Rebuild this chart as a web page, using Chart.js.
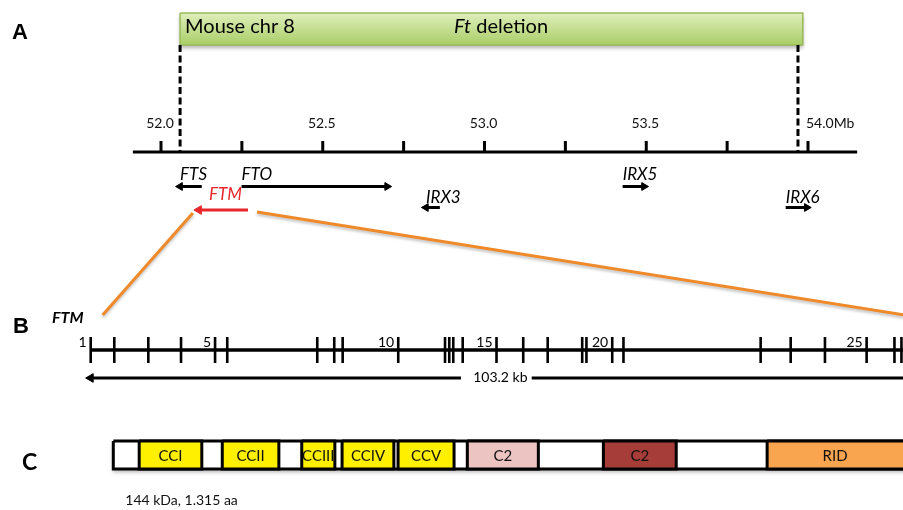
<!DOCTYPE html>
<html>
<head>
<meta charset="utf-8">
<title>Ft deletion / FTM</title>
<script src="https://cdn.jsdelivr.net/npm/chart.js@4.4.1/dist/chart.umd.min.js"></script>
<style>
  html, body { margin: 0; padding: 0; background: #fff; }
  #wrap { width: 903px; height: 510px; }
</style>
</head>
<body>
<div id="wrap"><canvas id="ftChart" width="903" height="510"></canvas></div>
<script>
// ---- Panel A: mouse chr 8 (Mb) ----
const axisRangeMb = [51.913, 54.152];
const axisTicksMb = [52.0, 52.25, 52.5, 52.75, 53.0, 53.25, 53.5, 53.75, 54.0];
const axisLabelsMb = ['52.0', '', '52.5', '', '53.0', '', '53.5', '', '54.0Mb'];
const deletionMb = [52.059, 53.969];
const geneNames = ['FTS', 'FTO', 'IRX3', 'IRX5', 'IRX6'];
const geneStartMb = [52.059, 52.249, 52.819, 53.427, 53.931];
const geneEndMb = [52.126, 52.699, 52.862, 53.493, 53.996];
const geneStrand = [-1, 1, -1, 1, 1];
const ftmMb = [52.117, 52.269]; // minus strand

// ---- Panel B: FTM exons (kb from exon 1) ----
const exonKb = [0, 3.0, 7.33, 11.49, 15.82, 17.37, 28.82, 30.98, 32.05, 39.12,
  45.07, 45.61, 46.12, 47.32, 51.62, 55.02, 58.13, 62.52, 63.06, 66.34,
  67.77, 85.22, 89.04, 93.40, 98.70, 102.24, 103.13];
const exonLabels = [1, 5, 10, 15, 20, 25];
const ftmLengthKb = 103.2;

// ---- Panel C: FTM protein domains (aa) ----
const proteinLengthAa = 1315;
const domainNames = ['CCI', 'CCII', 'CCIII', 'CCIV', 'CCV', 'C2', 'C2', 'RID'];
const domainStartAa = [43, 181, 313, 380, 473, 588, 814, 1086];
const domainEndAa = [147, 275, 368, 466, 566, 706, 935, 1315];

// styles
const domainColors = ['#fff000', '#fff000', '#fff000', '#fff000', '#fff000', '#ecc4c1', '#a63d38', '#f9a44e'];
const FONT = 'Lato, "Open Sans", sans-serif';
const ORANGE = '#ef8a2b';
const RED = '#e8262b';

// layout
const W = 903, H = 510;
const Y = {
  boxTop: 13, boxBottom: 45, boxText: 27,
  axisLabel: 123, tickTop: 141, axis: 152,
  row1: 186.5, row1Label: 175, row2: 207.5, row2Label: 197.5,
  ftm: 210, ftmLabel: 195,
  exonLabel: 342, exonTop: 337, exonLine: 350, exonBottom: 363, kbArrow: 378,
  protTop: 441, protBottom: 469, protLabel: 456, caption: 500
};
const geneRow = { FTS: 1, FTO: 1, IRX3: 2, IRX5: 1, IRX6: 2 };

// scale so that value v0 sits at pixel p0 and v1 at p1
function fitScale(v0, p0, v1, p1) {
  const k = (p1 - p0) / (v1 - v0);
  return { type: 'linear', axis: 'x', display: false, min: v0 - p0 / k, max: v0 + (W - p0) / k };
}

function line(xAxisID, data, opts) {
  return Object.assign({
    type: 'line', xAxisID: xAxisID, yAxisID: 'y', data: data,
    borderColor: '#000', borderWidth: 3, borderCapStyle: 'butt', borderJoinStyle: 'miter',
    pointRadius: 0, fill: false, tension: 0, clip: false, spanGaps: false
  }, opts || {});
}
function rect(x0, y0, x1, y1) {
  return [{ x: x0, y: y0 }, { x: x1, y: y0 }, { x: x1, y: y1 }, { x: x0, y: y1 }, { x: x0, y: y0 }];
}
function ticks(values, y0, y1) {
  const pts = [];
  values.forEach(v => { pts.push({ x: v, y: y0 }, { x: v, y: y1 }, { x: v, y: null }); });
  return pts;
}
function arrow(xAxisID, tail, head, y, color, r, width) {
  return line(xAxisID, [{ x: tail, y: y }, { x: head, y: y }], {
    borderColor: color, borderWidth: width || 3,
    backgroundColor: color, pointBackgroundColor: color, pointBorderColor: color, pointBorderWidth: 1,
    pointStyle: 'triangle', pointRadius: [0, r], pointRotation: head > tail ? 90 : -90
  });
}

function greenGradient(ctx) {
  const chart = ctx.chart;
  const y = chart.scales && chart.scales.y;
  const top = y ? y.getPixelForValue(Y.boxTop) : NaN;
  const bottom = y ? y.getPixelForValue(Y.boxBottom) : NaN;
  if (!isFinite(top) || !isFinite(bottom)) return '#bfdc8c';
  const g = chart.ctx.createLinearGradient(0, top, 0, bottom);
  g.addColorStop(0, '#dfeebb');
  g.addColorStop(1, '#a9ce67');
  return g;
}

// datasets, back to front
const layers = [];
layers.push(line('xMb', rect(deletionMb[0], Y.boxTop, deletionMb[1] + 0.015, Y.boxBottom),
  { fill: 'shape', backgroundColor: greenGradient, borderColor: '#9aba58', borderWidth: 1.5 }));
deletionMb.forEach(v => layers.push(line('xMb', [{ x: v, y: Y.boxBottom }, { x: v, y: Y.axis }],
  { borderDash: [7, 3.5] })));
layers.push(line('xMb', [{ x: axisRangeMb[0], y: Y.axis }, { x: axisRangeMb[1], y: Y.axis }]));
layers.push(line('xMb', ticks(axisTicksMb, Y.tickTop, Y.axis)));
geneNames.forEach((g, i) => {
  const tail = geneStrand[i] > 0 ? geneStartMb[i] : geneEndMb[i];
  const head = geneStrand[i] > 0 ? geneEndMb[i] : geneStartMb[i];
  layers.push(arrow('xMb', tail, head, geneRow[g] === 1 ? Y.row1 : Y.row2, '#000', 4.5));
});
layers.push(arrow('xMb', ftmMb[1], ftmMb[0], Y.ftm, RED, 5));

// panel B
layers.push(line('xKb', [{ x: 0, y: Y.exonLine }, { x: ftmLengthKb + 1, y: Y.exonLine }], { borderWidth: 3.5 }));
layers.push(line('xKb', ticks(exonKb, Y.exonTop, Y.exonBottom), { borderWidth: 2.6 }));
const kbMid = ftmLengthKb / 2, kbGap = 4.5;
layers.push(arrow('xKb', kbMid - kbGap, 0, Y.kbArrow, '#000', 5));
layers.push(line('xKb', [{ x: kbMid + kbGap, y: Y.kbArrow }, { x: ftmLengthKb + 1, y: Y.kbArrow }]));

// panel C
layers.push(line('xAa', rect(0, Y.protTop, proteinLengthAa, Y.protBottom),
  { fill: 'shape', backgroundColor: '#fff', borderWidth: 3 }));
domainNames.forEach((d, i) => {
  layers.push(line('xAa', rect(domainStartAa[i], Y.protTop, domainEndAa[i], Y.protBottom),
    { fill: 'shape', backgroundColor: domainColors[i], borderWidth: 3 }));
});
layers.forEach((ds, i) => { ds.order = layers.length - i; });

const scales = {
  xMb: fitScale(52.0, 161, 54.0, 808),
  xKb: fitScale(0, 90.7, ftmLengthKb, 902),
  xAa: fitScale(0, 113.3, proteinLengthAa, 905),
  y: { type: 'linear', display: false, min: 0, max: H, reverse: true }
};

// soft shadows + orange connectors (behind datasets)
const backdropPlugin = {
  id: 'backdrop',
  beforeDatasetsDraw(chart) {
    const c = chart.ctx, s = chart.scales;
    const py = v => s.y.getPixelForValue(v);
    c.save();
    c.shadowColor = 'rgba(0,0,0,0.3)';
    c.shadowBlur = 4;
    c.shadowOffsetY = 3;
    c.fillStyle = '#fff';
    const bx0 = s.xMb.getPixelForValue(deletionMb[0]), bx1 = s.xMb.getPixelForValue(deletionMb[1] + 0.015);
    c.fillRect(bx0, py(Y.boxTop), bx1 - bx0, py(Y.boxBottom) - py(Y.boxTop));
    const px0 = s.xAa.getPixelForValue(0);
    c.fillRect(px0, py(Y.protTop), W - px0 + 5, py(Y.protBottom) - py(Y.protTop));
    // connectors from FTM (panel A) to the gene model (panel B)
    c.strokeStyle = ORANGE;
    c.lineWidth = 3;
    c.shadowColor = 'rgba(0,0,0,0.25)';
    c.shadowBlur = 3;
    c.shadowOffsetY = 2;
    c.beginPath();
    c.moveTo(s.xMb.getPixelForValue(ftmMb[0]) - 6, py(213));
    c.lineTo(s.xKb.getPixelForValue(0) + 12, py(315));
    c.moveTo(s.xMb.getPixelForValue(ftmMb[1]) + 9, py(212));
    c.lineTo(s.xKb.getPixelForValue(ftmLengthKb) + 2, py(315));
    c.stroke();
    c.restore();
  }
};

const textPlugin = {
  id: 'figureText',
  afterDatasetsDraw(chart) {
    const c = chart.ctx, s = chart.scales;
    const py = v => s.y.getPixelForValue(v);
    const mb = v => s.xMb.getPixelForValue(v);
    const kb = v => s.xKb.getPixelForValue(v);
    const aa = v => s.xAa.getPixelForValue(v);
    function put(txt, x, y, font, align, color) {
      c.font = font;
      c.textAlign = align || 'center';
      c.textBaseline = 'middle';
      c.fillStyle = color || '#000';
      c.fillText(txt, x, y);
    }
    c.save();
    // panel letters
    put('A', 12, py(33), 'bold 22px "Liberation Sans", Arial, sans-serif', 'left');
    put('B', 13, py(326.5), 'bold 22px "Liberation Sans", Arial, sans-serif', 'left');
    put('C', 22, py(463), 'bold 23px ' + FONT, 'left');

    // green box text
    put('Mouse chr 8', mb(deletionMb[0]) + 5, py(Y.boxText), '20px ' + FONT, 'left');
    c.font = 'italic 20px ' + FONT;
    const wFt = c.measureText('Ft').width;
    c.font = '20px ' + FONT;
    const wDel = c.measureText(' deletion').width;
    const cx = (mb(deletionMb[0]) + mb(deletionMb[1])) / 2 + 12;
    const x0 = cx - (wFt + wDel) / 2;
    put('Ft', x0, py(Y.boxText), 'italic 20px ' + FONT, 'left');
    put(' deletion', x0 + wFt, py(Y.boxText), '20px ' + FONT, 'left');

    // axis labels
    axisTicksMb.forEach((v, i) => {
      if (!axisLabelsMb[i]) return;
      const last = i === axisTicksMb.length - 1;
      put(axisLabelsMb[i], last ? mb(v) - 2 : mb(v) - 1, py(Y.axisLabel), '14px ' + FONT, last ? 'left' : 'center', '#111');
    });

    // gene labels
    geneNames.forEach((g, i) => {
      put(g, mb(geneStartMb[i]), py(geneRow[g] === 1 ? Y.row1Label : Y.row2Label), 'italic 17px ' + FONT, 'left');
    });
    put('FTM', (mb(ftmMb[0]) + mb(ftmMb[1])) / 2 + 2, py(Y.ftmLabel), 'italic 17px ' + FONT, 'center', RED);

    // panel B labels
    put('FTM', 52, py(317.5), 'italic bold 16px ' + FONT, 'left');
    exonLabels.forEach(n => {
      put(String(n), kb(exonKb[n - 1]) - 4, py(Y.exonLabel), '14px ' + FONT, 'right');
    });
    put(ftmLengthKb + ' kb', kb(kbMid) + 4, py(Y.kbArrow - 1), '14px ' + FONT);

    // panel C labels
    domainNames.forEach((d, i) => {
      const right = Math.min(aa(domainEndAa[i]), W);
      put(d, (aa(domainStartAa[i]) + right) / 2, py(Y.protLabel), '15px ' + FONT, 'center', '#111');
    });
    put('144 kDa, 1.315 aa', aa(0) + 12, py(Y.caption), '14px ' + FONT, 'left', '#111');
    c.restore();
  }
};

new Chart(document.getElementById('ftChart'), {
  type: 'line',
  data: { datasets: layers },
  options: {
    responsive: false,
    animation: false,
    events: [],
    layout: { padding: 0, autoPadding: false },
    scales: scales,
    plugins: { legend: { display: false }, tooltip: { enabled: false } }
  },
  plugins: [backdropPlugin, textPlugin]
});
</script>
</body>
</html>
